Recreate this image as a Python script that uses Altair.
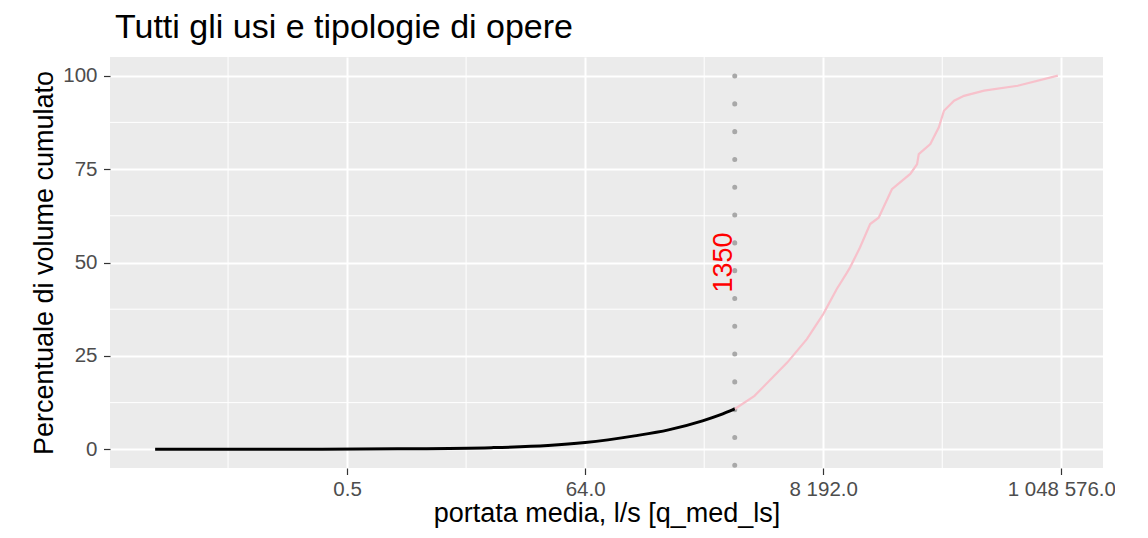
import math
import altair as alt
import pandas as pd

TITLE = "Tutti gli usi e tipologie di opere"
X_TITLE = "portata media, l/s [q_med_ls]"
Y_TITLE = "Percentuale di volume cumulato"

# cumulative curve below the threshold (black)
black_flow = [0.01, 0.05, 0.3, 1.4, 9.5, 30, 64, 175, 350, 700, 1000, 1350]
black_pct = [0.0, 0.01, 0.05, 0.15, 0.45, 1.0, 1.8, 3.6, 5.2, 7.6, 9.2, 10.8]

# cumulative curve above the threshold (pink)
pink_flow = [1350, 2020, 3930, 5870, 8192, 10800, 13300, 14160, 17330, 21320,
             25350, 33230, 48300, 55470, 57430, 72700, 86450, 95900, 118000,
             144400, 217500, 431500, 978000]
pink_pct = [10.8, 14.3, 23.2, 29.5, 36.2, 42.9, 47.3, 48.7, 54.0, 60.3,
            62.0, 69.6, 73.7, 76.3, 79.0, 81.7, 86.2, 90.6, 93.3,
            94.6, 96.0, 97.3, 100.0]

threshold = [1350]
threshold_label = ["1350"]
label_pct = [50]

x_ticks = [0.5, 64, 8192, 1048576]
x_tick_labels = ["0.5", "64.0", "8 192.0", "1 048 576.0"]
x_minor = [0.0442, 5.657, 724.08, 92681.9]
y_ticks = [0, 25, 50, 75, 100]
y_minor = [12.5, 37.5, 62.5, 87.5]

FONT = "Liberation Sans"

lo = math.log2(min(black_flow))
hi = math.log2(max(pink_flow))
pad = 0.05 * (hi - lo)
x_domain = [2 ** (lo - pad), 2 ** (hi + pad)]

x_scale = alt.Scale(type="log", base=2, domain=x_domain, nice=False)
y_scale = alt.Scale(domain=[-5, 105], nice=False, zero=False)

label_expr = " : ".join(
    f"datum.value == {v} ? '{l}'" for v, l in zip(x_ticks, x_tick_labels)
) + " : ''"

x_axis = alt.Axis(
    values=x_ticks, labelExpr=label_expr, title=X_TITLE,
    grid=True, gridColor="white", gridWidth=2, domain=False,
    ticks=True, tickColor="#333333", tickSize=6.5, tickWidth=1.2,
    labelColor="#4d4d4d", labelFontSize=20.5, labelFont=FONT, labelPadding=4.5,
    labelFlush=False, labelOverlap=False,
    titleFont=FONT, titleFontSize=27, titleFontWeight="normal",
    titleColor="black", titlePadding=1,
)
y_axis = alt.Axis(
    values=y_ticks, title=Y_TITLE,
    grid=True, gridColor="white", gridWidth=2, domain=False,
    ticks=True, tickColor="#333333", tickSize=6.5, tickWidth=1.2,
    labelColor="#4d4d4d", labelFontSize=20.5, labelFont=FONT, labelPadding=6.5,
    labelFlush=False,
    titleFont=FONT, titleFontSize=27, titleFontWeight="normal",
    titleColor="black", titlePadding=4,
)


def X():
    return alt.X("flow:Q", scale=x_scale, axis=x_axis)


def Y():
    return alt.Y("pct:Q", scale=y_scale, axis=y_axis)


black_df = pd.DataFrame({"flow": black_flow, "pct": black_pct})
pink_df = pd.DataFrame({"flow": pink_flow, "pct": pink_pct})
xminor_df = pd.DataFrame({"flow": x_minor})
yminor_df = pd.DataFrame({"pct": y_minor})
thr_df = pd.DataFrame({"flow": threshold, "pct": label_pct, "label": threshold_label})

xminor = alt.Chart(xminor_df).mark_rule(color="white", strokeWidth=1).encode(x=X())
yminor = alt.Chart(yminor_df).mark_rule(color="white", strokeWidth=1).encode(y=Y())

vline = alt.Chart(thr_df).mark_rule(
    color="#a8a8a8", strokeWidth=5, strokeCap="round",
    strokeDash=[0.1, 27.7], strokeDashOffset=8.8,
).encode(x=X())

black = alt.Chart(black_df).mark_line(
    color="black", strokeWidth=3, interpolate="monotone"
).encode(x=X(), y=Y())

pink = alt.Chart(pink_df).mark_line(
    color="#f7c1cb", strokeWidth=2.2
).encode(x=X(), y=Y())

txt = alt.Chart(thr_df).mark_text(
    angle=270, color="red", fontSize=27, font=FONT,
    baseline="alphabetic", align="center", dy=-3,
).encode(x=X(), y=Y(), text="label:N")

chart = alt.layer(xminor, yminor, vline, pink, black, txt).properties(
    width=993, height=411,
    title=alt.TitleParams(
        TITLE, anchor="start", frame="group", font=FONT, fontSize=34,
        fontWeight="normal", color="black", offset=10, dx=5,
    ),
    autosize=alt.AutoSizeParams(type="none"),
    padding={"left": 102, "top": 49, "right": 12, "bottom": 62},
    background="white",
).configure_view(fill="#EBEBEB", stroke=None)

chart.save("out.html", embed_options={"renderer": "svg", "actions": False})
